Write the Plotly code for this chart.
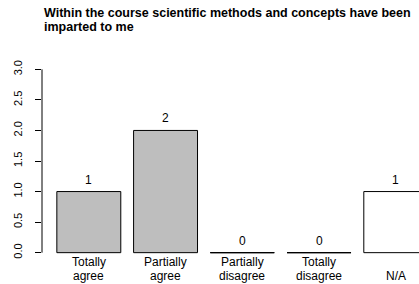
import plotly.graph_objects as go

categories = ["Totally\nagree", "Partially\nagree", "Partially\ndisagree", "Totally\ndisagree", "N/A"]
values = [1, 2, 0, 0, 1]
bar_colors = ["#BEBEBE", "#BEBEBE", "#BEBEBE", "#BEBEBE", "#FFFFFF"]
y_ticks = [0, 0.5, 1.0, 1.5, 2.0, 2.5, 3.0]
y_tick_labels = ["0.0", "0.5", "1.0", "1.5", "2.0", "2.5", "3.0"]
title_lines = ["Within the course scientific methods and concepts have been", "imparted to me"]

FONT = "Liberation Sans, Arial, Helvetica, sans-serif"
H = 284
top_m, bot_m = 62, 24
plot_h = H - top_m - bot_m

# R barplot style positions: width 1, space 0.2
xpos = [0.7 + 1.2 * i for i in range(len(values))]

fig = go.Figure()
fig.add_trace(go.Bar(
    x=xpos, y=values, width=1.0,
    marker=dict(color=bar_colors, line=dict(color="#000000", width=1)),
    hoverinfo="skip", showlegend=False,
))

shapes = []
# zero-height bars drawn as their outline
for xc, v in zip(xpos, values):
    if v == 0:
        shapes.append(dict(type="line", xref="x", yref="y", x0=xc - 0.5, x1=xc + 0.5,
                           y0=0, y1=0, line=dict(color="#000000", width=1)))
# R-style y axis line spanning only the tick range
shapes.append(dict(type="line", xref="paper", yref="y", x0=0, x1=0,
                   y0=y_ticks[0], y1=y_ticks[-1], line=dict(color="#000000", width=1)))

annotations = []
for xc, v, c in zip(xpos, values, categories):
    annotations.append(dict(x=xc, y=v, xref="x", yref="y", text=str(v), showarrow=False,
                            yanchor="middle", yshift=12, font=dict(family=FONT, size=12, color="#000000")))
    lines = c.split("\n")
    n = len(lines)
    for j, line in enumerate(lines):
        shift = (-9 - 14 * j) if n > 1 else -23
        annotations.append(dict(x=xc, y=0, xref="x", yref="y", text=line, showarrow=False,
                                yanchor="middle", yshift=shift,
                                font=dict(family=FONT, size=12, color="#000000")))

for j, line in enumerate(title_lines):
    pix = 12.5 + 14 * j
    annotations.append(dict(x=0, xref="paper", xanchor="left",
                            y=(H - bot_m - pix) / plot_h, yref="paper", showarrow=False,
                            text="<b>" + line + "</b>", yanchor="middle",
                            font=dict(family=FONT, size=12.5, color="#000000")))

fig.update_layout(
    width=419, height=H,
    margin=dict(l=42, r=0, t=top_m, b=bot_m, pad=0, autoexpand=False),
    paper_bgcolor="#FFFFFF", plot_bgcolor="#FFFFFF",
    shapes=shapes, annotations=annotations,
    xaxis=dict(range=[-0.032, 5.863], showgrid=False, zeroline=False, showline=False,
               showticklabels=False, ticks="", automargin=False),
    yaxis=dict(range=[-0.12, 3.12], showgrid=False, zeroline=False, showline=False,
               tickvals=y_ticks, ticktext=y_tick_labels, ticks="outside", ticklen=6,
               tickcolor="#000000", tickwidth=1, tickangle=-90, automargin=False,
               ticklabelstandoff=9,
               tickfont=dict(family=FONT, size=11, color="#000000")),
)

fig.write_html("out.html", config={"displayModeBar": False},
               post_script="document.body.style.margin='0px';")
